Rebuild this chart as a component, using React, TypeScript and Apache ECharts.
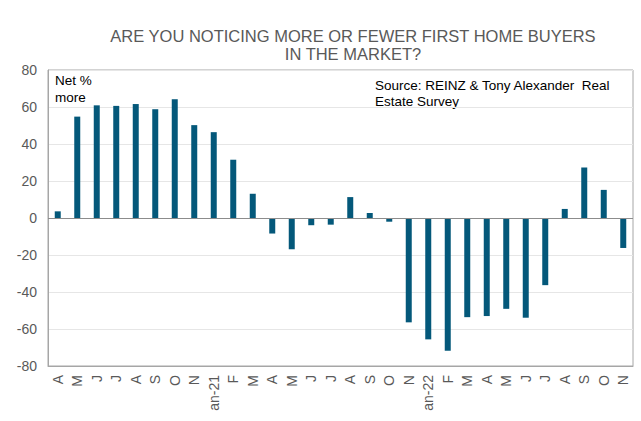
import React, { useEffect, useRef } from "react";
import * as echarts from "echarts";

const categories = [
  "A", "M", "J", "J", "A", "S", "O", "N", "an-21", "F",
  "M", "A", "M", "J", "J", "A", "S", "O", "N", "an-22",
  "F", "M", "A", "M", "J", "J", "A", "S", "O", "N",
];

const netMore = [
  3.6, 54.8, 60.9, 60.6, 61.6, 58.8, 64.2, 50.2, 46.4, 31.5,
  13.1, -8.4, -16.9, -3.9, -3.6, 11.3, 2.7, -2, -56.4, -65.6,
  -71.7, -53.6, -53, -49.1, -53.9, -36.3, 4.9, 27.3, 15.2, -16.2,
];

const titleLines = ["ARE YOU NOTICING MORE OR FEWER FIRST HOME BUYERS", "IN THE MARKET?"];
const unitLines = ["Net %", "more"];
const sourceLines = ["Source: REINZ & Tony Alexander  Real", "Estate Survey"];

const FONT = "'Liberation Sans', Arial, sans-serif";

function lineTexts(lines: string[], x: number, y0: number, dy: number, size: number, fill: string, align: string) {
  return lines.map((t, i) => ({
    type: "text",
    x,
    y: y0 + i * dy,
    style: { text: t, font: `${size}px ${FONT}`, fill, align, verticalAlign: "middle" },
  }));
}

export default function App() {
  const ref = useRef<HTMLDivElement>(null);
  useEffect(() => {
    if (!ref.current) return;
    const chart = echarts.init(ref.current, undefined, { renderer: "svg" });
    chart.setOption({
      animation: false,
      backgroundColor: "#ffffff",
      textStyle: { fontFamily: FONT },
      grid: { left: 48, right: 8, top: 70, bottom: 55, show: true, borderColor: "#a6a6a6", borderWidth: 1 },
      graphic: [
        ...lineTexts(titleLines, 353, 36, 17.5, 16.5, "#595959", "center"),
        ...lineTexts(unitLines, 55, 80, 17, 13.5, "#000000", "left"),
        ...lineTexts(sourceLines, 375, 85.5, 16, 13.5, "#000000", "left"),
      ],
      xAxis: {
        type: "category",
        data: categories,
        axisLine: { onZero: false, lineStyle: { color: "#a6a6a6" } },
        axisTick: { show: false },
        axisLabel: { rotate: 90, color: "#595959", fontSize: 14, fontFamily: FONT, interval: 0, margin: 9 },
        splitLine: { show: false },
      },
      yAxis: {
        type: "value",
        min: -80,
        max: 80,
        interval: 20,
        axisLine: { show: true, lineStyle: { color: "#a6a6a6" } },
        axisTick: { show: false },
        axisLabel: { color: "#595959", fontSize: 14, fontFamily: FONT, margin: 11 },
        splitLine: { show: true, lineStyle: { color: "#e6e6e6", width: 1 } },
      },
      series: [
        {
          type: "bar",
          data: netMore,
          barWidth: 6,
          itemStyle: { color: "#04587a" },
          markLine: {
            silent: true,
            symbol: "none",
            label: { show: false },
            lineStyle: { color: "#8c8c8c", type: "solid", width: 1 },
            data: [{ yAxis: 0 }],
          },
        },
      ],
    });
    return () => chart.dispose();
  }, []);
  return (
    <div
      ref={ref}
      style={{ position: "fixed", left: 0, top: 0, width: 641, height: 421 }}
    />
  );
}
